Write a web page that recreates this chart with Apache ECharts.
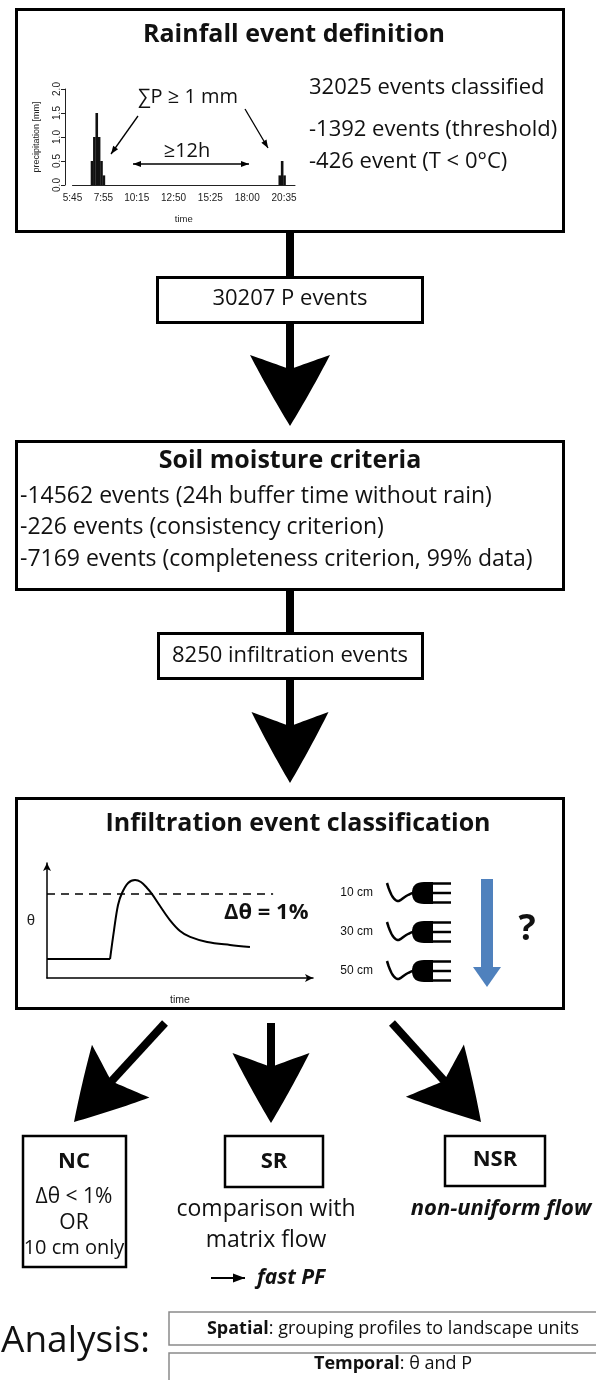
<!DOCTYPE html>
<html>
<head>
<meta charset="utf-8">
<script src="https://cdn.jsdelivr.net/npm/echarts@6/dist/echarts.min.js"></script>
<style>
  html, body { margin: 0; padding: 0; background: #fff; }
  #main { width: 596px; height: 1380px; }
</style>
</head>
<body>
<div id="main"></div>
<script>
// example rain record, 10 min sums (minutes after midnight)
var rainMinutes = [427, 437, 447, 457, 467, 477, 1217, 1227, 1237];
var rainValues = [0.5, 1.0, 1.5, 1.0, 0.5, 0.2, 0.2, 0.5, 0.2];
var timeTickMinutes = [345, 475, 615, 770, 925, 1080, 1235];
var timeTickLabels = ['5:45', '7:55', '10:15', '12:50', '15:25', '18:00', '20:35'];

// sketch of a soil moisture response
var thetaTime = [0, 23.7, 25.2, 26.7, 28.2, 30.5, 33.1, 35.3, 37.6, 39.5, 42.5, 46.2, 50, 53.8, 60.2, 68.8, 76.3];
var thetaValues = [16.5, 16.5, 41.7, 63.5, 73.9, 82.6, 85.2, 83.5, 78.3, 73, 62.6, 50.4, 40.9, 35.7, 31.3, 28.7, 27];
var thetaThreshold = 73;
var sensorDepths = ['10 cm', '30 cm', '50 cm'];

// flow chart texts
var rainfallLines = ['32025 events classified', '-1392 events (threshold)', '-426 event (T < 0°C)'];
var soilLines = ['-14562 events (24h buffer time without rain)', '-226 events (consistency criterion)', '-7169 events (completeness criterion, 99% data)'];
var pEvents = '30207 P events';
var infEvents = '8250 infiltration events';

(function () {
    'use strict';
    var FF = "'Open Sans', 'DejaVu Sans', sans-serif";
    var HF = "'Liberation Sans', Arial, sans-serif";
    var myChart = echarts.init(document.getElementById('main'), null, {renderer: 'canvas'});

    function txt(x, y, s, size, o) {
        o = o || {};
        return {
            type: 'text', x: x, y: y, z: 10,
            style: {
                text: s, fontSize: size, fontFamily: o.family || FF,
                fontWeight: o.weight || 'normal', fontStyle: o.style || 'normal',
                fill: '#111', align: o.align || 'center', verticalAlign: 'middle',
                rich: o.rich
            }
        };
    }
    function box(x1, y1, x2, y2, lw, color) {
        return {
            type: 'rect', z: 5,
            shape: {x: x1, y: y1, width: x2 - x1, height: y2 - y1},
            style: {fill: 'transparent', stroke: color || '#000', lineWidth: lw}
        };
    }
    function line(x1, y1, x2, y2, lw, color) {
        return {type: 'line', z: 5, shape: {x1: x1, y1: y1, x2: x2, y2: y2},
            style: {stroke: color || '#000', lineWidth: lw}};
    }
    // sample a quadratic curve
    function quad(a, c, b, n, out) {
        for (var i = 1; i <= n; i++) {
            var t = i / n, s = 1 - t;
            out.push([s * s * a[0] + 2 * s * t * c[0] + t * t * b[0], s * s * a[1] + 2 * s * t * c[1] + t * t * b[1]]);
        }
    }
    // big curved arrow head, tip at (tx,ty), pointing along (dx,dy)
    function bigHead(tx, ty, dx, dy, L, W) {
        var len = Math.hypot(dx, dy), ux = dx / len, uy = dy / len, px = -uy, py = ux;
        function P(u, v) { return [tx + u * px + v * ux, ty + u * py + v * uy]; }
        var pts = [P(0, 0)];
        quad(P(0, 0), P(-W * 0.27, -L * 0.5), P(-W / 2, -L), 16, pts);
        quad(P(-W / 2, -L), P(-W * 0.17, -L * 0.87), P(0, -L * 0.8), 12, pts);
        quad(P(0, -L * 0.8), P(W * 0.17, -L * 0.87), P(W / 2, -L), 12, pts);
        quad(P(W / 2, -L), P(W * 0.27, -L * 0.5), P(0, 0), 16, pts);
        return {type: 'polygon', z: 6, shape: {points: pts}, style: {fill: '#000'}};
    }
    // thin arrow with small triangular head(s)
    function thinArrow(x1, y1, x2, y2, lw, hl, hw, both) {
        var out = [line(x1, y1, x2, y2, lw)];
        function head(ax, ay, bx, by) {
            var len = Math.hypot(bx - ax, by - ay), ux = (bx - ax) / len, uy = (by - ay) / len;
            out.push({type: 'polygon', z: 6, shape: {points: [
                [bx, by],
                [bx - ux * hl - uy * hw / 2, by - uy * hl + ux * hw / 2],
                [bx - ux * hl + uy * hw / 2, by - uy * hl - ux * hw / 2]
            ]}, style: {fill: '#000'}});
        }
        head(x1, y1, x2, y2);
        if (both) { head(x2, y2, x1, y1); }
        return out;
    }
    function sensor(x0, yc) {
        function p(x, y) { return [x0 + x, yc + y]; }
        var wire = [p(0, -10)];
        quad(p(0, -10), p(7, 14), p(15, 6), 10, wire);
        quad(p(15, 6), p(21, 1), p(29, -1), 6, wire);
        var body = [p(46, -11), p(37, -11)];
        quad(p(37, -11), p(25, -11), p(25, 0), 8, body);
        quad(p(25, 0), p(25, 11), p(37, 11), 8, body);
        body.push(p(46, 11));
        return [
            {type: 'polyline', z: 6, shape: {points: wire}, style: {fill: null, stroke: '#000', lineWidth: 2.5}},
            {type: 'polygon', z: 6, shape: {points: body}, style: {fill: '#000'}},
            line(x0 + 45, yc - 9.5, x0 + 64, yc - 9.5, 2.5),
            line(x0 + 45, yc, x0 + 64, yc, 2.5),
            line(x0 + 45, yc + 9.5, x0 + 64, yc + 9.5, 2.5)
        ];
    }

    var g = [];
    // Rainfall event definition
    g.push(box(16.5, 9.5, 563.5, 231.5, 3));
    g.push(txt(294, 35, 'Rainfall event definition', 25, {weight: 'bold'}));
    g.push(txt(309, 88, rainfallLines[0], 22, {align: 'left'}));
    g.push(txt(309, 130, rainfallLines[1], 22, {align: 'left'}));
    g.push(txt(309, 162, rainfallLines[2], 22, {align: 'left'}));
    g.push(txt(188, 97, '∑P ≥ 1 mm', 20));
    g.push(txt(187, 151, '≥12h', 20));
    g = g.concat(thinArrow(138, 116, 111, 154, 1.3, 8, 6));
    g = g.concat(thinArrow(245, 109, 268, 148, 1.3, 8, 6));
    g = g.concat(thinArrow(133, 164, 249, 164, 1.3, 8, 6, true));

    // connector + P events
    g.push(line(290, 232, 290, 277, 8));
    g.push(box(157.5, 277.5, 422.5, 322.5, 3));
    g.push(txt(290, 299, pEvents, 22));
    g.push(line(290, 323, 290, 375, 8));
    g.push(bigHead(290, 426, 0, 1, 71, 80));

    // Soil moisture criteria
    g.push(box(16.5, 441.5, 563.5, 589.5, 3));
    g.push(txt(290, 461, 'Soil moisture criteria', 25, {weight: 'bold'}));
    g.push(txt(20, 496, soilLines[0], 23, {align: 'left'}));
    g.push(txt(20, 527, soilLines[1], 23, {align: 'left'}));
    g.push(txt(20, 559, soilLines[2], 23, {align: 'left'}));

    g.push(line(290, 589, 290, 633, 8));
    g.push(box(158.5, 633.5, 422.5, 678.5, 3));
    g.push(txt(290, 656, infEvents, 22));
    g.push(line(290, 679, 290, 732, 8));
    g.push(bigHead(290, 783, 0, 1, 71, 77));

    // Infiltration event classification
    g.push(box(16.5, 798.5, 563.5, 1008.5, 3));
    g.push(txt(298, 824, 'Infiltration event classification', 25, {weight: 'bold'}));
    g.push(txt(224, 913, 'Δθ = 1%', 22, {weight: 'bold', align: 'left'}));
    var sensorY = [893, 932, 971];
    sensorDepths.forEach(function (d, i) {
        g.push(txt(373, sensorY[i], d, 12, {family: HF, align: 'right'}));
        g = g.concat(sensor(387, sensorY[i]));
    });
    g.push({type: 'rect', z: 6, shape: {x: 481, y: 879, width: 12, height: 90}, style: {fill: '#4f81bd'}});
    g.push({type: 'polygon', z: 6, shape: {points: [[473, 967], [501, 967], [487, 987]]}, style: {fill: '#4f81bd'}});
    g.push(txt(527, 930, '?', 36, {weight: 'bold'}));

    // three outcomes
    g.push(line(165, 1023, 108, 1085, 8));
    g.push(bigHead(74, 1122, -91, 99, 69, 78));
    g.push(line(271, 1023, 271, 1072, 8));
    g.push(bigHead(271, 1123, 0, 1, 70, 77));
    g.push(line(392, 1023, 448, 1085, 8));
    g.push(bigHead(481, 1122, 89, 99, 69, 78));

    g.push(box(23, 1136, 126, 1267, 2.5));
    g.push(txt(74, 1162, 'NC', 22, {weight: 'bold'}));
    g.push(txt(74, 1197, 'Δθ < 1%', 21));
    g.push(txt(74, 1223, 'OR', 21));
    g.push(txt(74, 1248, '10 cm only', 20));

    g.push(box(225, 1136, 323, 1187, 2.5));
    g.push(txt(274, 1162, 'SR', 22, {weight: 'bold'}));
    g.push(txt(266, 1209, 'comparison with', 23));
    g.push(txt(266, 1240, 'matrix flow', 23));
    g = g.concat(thinArrow(211, 1278, 245, 1278, 2, 12, 9));
    g.push(txt(257, 1278, 'fast PF', 21, {weight: 'bold', style: 'italic', align: 'left'}));

    g.push(box(445, 1136, 545, 1186, 2.5));
    g.push(txt(495, 1160, 'NSR', 22, {weight: 'bold'}));
    g.push(txt(501, 1209, 'non-uniform flow', 22, {weight: 'bold', style: 'italic'}));

    // analysis
    g.push(txt(1, 1341, 'Analysis:', 37, {align: 'left'}));
    g.push(box(169, 1312, 605, 1345, 1.5, '#8a8a8a'));
    g.push(box(169, 1353, 605, 1395, 1.5, '#8a8a8a'));
    g.push(txt(393, 1329, '{b|Spatial}: grouping profiles to landscape units', 18, {rich: {b: {fontWeight: 'bold', fontSize: 18, fontFamily: FF}}}));
    g.push(txt(393, 1364, '{b|Temporal}: θ and P', 18, {rich: {b: {fontWeight: 'bold', fontSize: 18, fontFamily: FF}}}));

    var option = {
        animation: false,
        backgroundColor: '#fff',
        grid: [
            {left: 72.5, top: 89, width: 222.5, height: 96},
            {left: 47, top: 863, width: 266, height: 115}
        ],
        xAxis: [{
            gridIndex: 0, type: 'value', min: 345, max: 1281,
            name: 'time', nameLocation: 'middle', nameGap: 29,
            nameTextStyle: {fontSize: 9.5, fontFamily: HF, color: '#222'},
            axisLine: {show: true, lineStyle: {color: '#222', width: 1}},
            axisTick: {show: false},
            splitLine: {show: false},
            axisLabel: {
                customValues: timeTickMinutes, fontSize: 10, fontFamily: HF, color: '#222', margin: 8,
                formatter: function (v) {
                    var i = timeTickMinutes.indexOf(v);
                    return i >= 0 ? timeTickLabels[i] : '';
                }
            }
        }, {
            gridIndex: 1, type: 'value', min: 0, max: 100,
            name: 'time', nameLocation: 'middle', nameGap: 17,
            nameTextStyle: {fontSize: 10.5, fontFamily: HF, color: '#222'},
            axisLine: {show: true, symbol: ['none', 'arrow'], symbolSize: [6, 8], lineStyle: {color: '#000', width: 1.5}},
            axisTick: {show: false}, axisLabel: {show: false}, splitLine: {show: false}
        }],
        yAxis: [{
            gridIndex: 0, type: 'value', min: 0, max: 2, interval: 0.5, offset: 7.5,
            name: 'precipitation [mm]', nameLocation: 'middle', nameGap: 24, nameRotate: 90,
            nameTextStyle: {fontSize: 9, fontFamily: HF, color: '#222'},
            axisLine: {show: true, lineStyle: {color: '#222', width: 1}},
            axisTick: {show: true, length: 4, lineStyle: {color: '#222'}},
            splitLine: {show: false},
            axisLabel: {rotate: 90, fontSize: 10, fontFamily: HF, color: '#222', margin: 3,
                formatter: function (v) { return v.toFixed(1); }}
        }, {
            gridIndex: 1, type: 'value', min: 0, max: 100,
            name: 'θ', nameLocation: 'middle', nameGap: 12, nameRotate: 0,
            nameTextStyle: {fontSize: 15, fontFamily: HF, color: '#222'},
            axisLine: {show: true, symbol: ['none', 'arrow'], symbolSize: [6, 8], lineStyle: {color: '#000', width: 1.5}},
            axisTick: {show: false}, axisLabel: {show: false}, splitLine: {show: false}
        }],
        series: [{
            type: 'bar', xAxisIndex: 0, yAxisIndex: 0,
            data: rainMinutes.map(function (m, i) { return [m, rainValues[i]]; }),
            barWidth: 2.6,
            itemStyle: {color: '#111'}
        }, {
            type: 'line', xAxisIndex: 1, yAxisIndex: 1, symbol: 'none',
            data: thetaTime.slice(0, 2).map(function (t, i) { return [t, thetaValues[i]]; }),
            lineStyle: {color: '#000', width: 2},
            markLine: {
                silent: true, symbol: 'none', label: {show: false},
                lineStyle: {color: '#000', width: 1.5, type: [8, 6]},
                data: [[{coord: [0, thetaThreshold]}, {coord: [85, thetaThreshold]}]]
            }
        }, {
            type: 'line', xAxisIndex: 1, yAxisIndex: 1, symbol: 'none', smooth: 0.35,
            data: thetaTime.slice(1).map(function (t, i) { return [t, thetaValues[i + 1]]; }),
            lineStyle: {color: '#000', width: 2}
        }],
        graphic: {elements: g}
    };
    myChart.setOption(option);
    window.addEventListener('resize', function () {
        myChart.resize();
    });
})();
</script>
</body>
</html>
